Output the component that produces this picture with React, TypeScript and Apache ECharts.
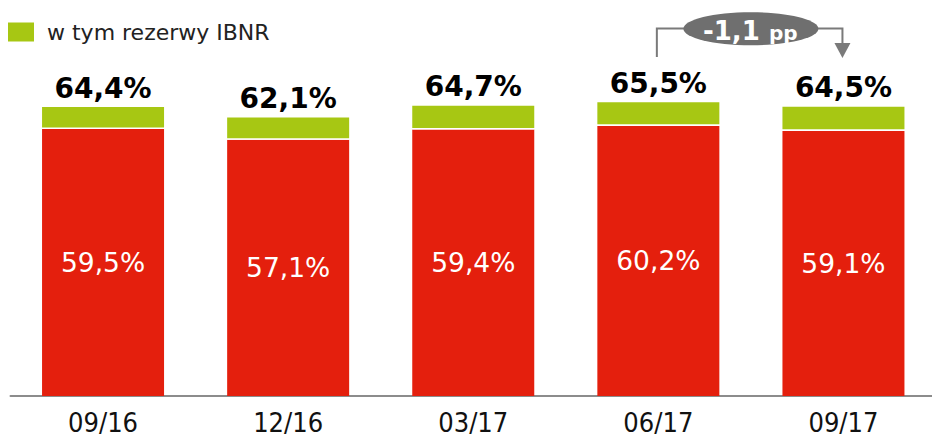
import React, { useEffect, useRef } from "react";
import * as echarts from "echarts";

const categories = ["09/16", "12/16", "03/17", "06/17", "09/17"];
const baseValues = [59.5, 57.1, 59.4, 60.2, 59.1];
const totalValues = [64.4, 62.1, 64.7, 65.5, 64.5];
const legendName = "w tym rezerwy IBNR";
const changeLabel = "-1,1";
const changeUnit = "pp";
const changeFrom = "06/17";
const changeTo = "09/17";

const RED = "#e41f0d";
const GREEN = "#a7c713";
const GRAY = "#7a7a7a";
const GAP_UNITS = 0.36;
const FONT = "'DejaVu Sans', Verdana, sans-serif";
const FONT_COND = "'DejaVu Sans Condensed', 'Liberation Sans Narrow', 'DejaVu Sans', sans-serif";

export default function App() {
  const ref = useRef<HTMLDivElement>(null);
  useEffect(() => {
    if (!ref.current) return;
    const chart = echarts.init(ref.current, undefined, { renderer: "svg" });
    const gapData = totalValues.map(() => GAP_UNITS);
    const greenData = totalValues.map((t, i) => +(t - baseValues[i] - GAP_UNITS).toFixed(3));
    chart.setOption({
      animation: false,
      textStyle: { fontFamily: FONT },
      legend: {
        data: [{ name: legendName, icon: "rect" }],
        left: 3,
        top: 16,
        itemWidth: 26,
        itemHeight: 19,
        selectedMode: false,
        textStyle: { fontSize: 22, color: "#222", fontFamily: FONT, padding: [0, 0, 0, 8] },
      },
      grid: { left: 10.5, top: 82, right: 0, bottom: 41, containLabel: false },
      xAxis: {
        type: "category",
        data: categories,
        axisTick: { show: false },
        axisLine: { lineStyle: { color: "#8c8c8c", width: 2 } },
        axisLabel: { fontSize: 27, lineHeight: 26, color: "#111", fontFamily: FONT_COND, margin: 13 },
      },
      yAxis: { type: "value", min: 0, max: 70, show: false, splitLine: { show: false } },
      series: [
        {
          name: "base",
          type: "bar",
          stack: "s",
          data: baseValues,
          barWidth: 122,
          itemStyle: { color: RED },
          label: {
            show: true,
            position: "inside",
            color: "#fff",
            fontSize: 26.5,
            fontFamily: FONT,
            formatter: (p: any) => baseValues[p.dataIndex].toFixed(1).replace(".", ",") + "%",
          },
          z: 2,
        },
        {
          name: "gap",
          type: "bar",
          stack: "s",
          data: gapData,
          itemStyle: { color: "#ffffff" },
          silent: true,
        },
        {
          name: legendName,
          type: "bar",
          stack: "s",
          data: greenData,
          itemStyle: { color: GREEN },
          label: {
            show: true,
            position: "top",
            distance: 5,
            color: "#000",
            fontSize: 28,
            fontWeight: "bold",
            fontFamily: FONT,
            formatter: (p: any) => totalValues[p.dataIndex].toFixed(1).replace(".", ",") + "%",
          },
        },
      ],
    });

    const x1 = chart.convertToPixel({ xAxisIndex: 0 }, changeFrom) as number;
    const x2 = chart.convertToPixel({ xAxisIndex: 0 }, changeTo) as number;
    const cx = (x1 + x2) / 2;
    const lineY = 28.5;
    const rx = 67.5;
    chart.setOption({
      graphic: [
        {
          type: "polyline",
          shape: { points: [[x1 - 1.5, 57], [x1 - 1.5, lineY], [cx - rx + 2, lineY]] },
          style: { stroke: GRAY, lineWidth: 2, fill: "none" },
        },
        {
          type: "polyline",
          shape: { points: [[cx + rx - 2, lineY], [x2 - 1, lineY], [x2 - 1, 44]] },
          style: { stroke: GRAY, lineWidth: 2, fill: "none" },
        },
        {
          type: "polygon",
          shape: { points: [[x2 - 9, 43], [x2 + 7, 43], [x2 - 1, 58]] },
          style: { fill: GRAY },
        },
        {
          type: "ellipse",
          shape: { cx: cx, cy: 28.7, rx: rx, ry: 16.5 },
          style: { fill: "#6f6f6f" },
        },
        {
          type: "text",
          x: cx - 48,
          y: 31,
          style: {
            text: changeLabel,
            fill: "#fff",
            font: "bold 26px " + FONT,
            align: "left",
            verticalAlign: "middle",
          },
        },
        {
          type: "text",
          x: cx + 18,
          y: 33,
          style: {
            text: changeUnit,
            fill: "#fff",
            font: "bold 20px " + FONT,
            align: "left",
            verticalAlign: "middle",
          },
        },
      ],
    });
    return () => chart.dispose();
  }, []);
  return (
    <div style={{ position: "fixed", left: 0, top: 0, width: 932, height: 437, overflow: "hidden", background: "#fff" }}>
      <div ref={ref} style={{ position: "absolute", left: 0, top: 0, width: 936, height: 437 }} />
    </div>
  );
}
